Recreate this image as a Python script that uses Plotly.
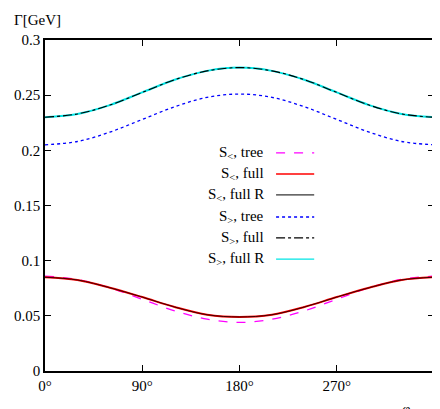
import plotly.graph_objects as go

phi = [0, 30, 60, 90, 120, 150, 180, 210, 240, 270, 300, 330, 360]

s_lt_tree = [0.086, 0.083, 0.0755, 0.065, 0.0545, 0.047, 0.044, 0.047, 0.0545, 0.065, 0.0755, 0.083, 0.086]
s_lt_full = [0.085, 0.0825, 0.0755, 0.067, 0.058, 0.051, 0.049, 0.051, 0.058, 0.067, 0.0755, 0.0825, 0.085]
s_lt_fullR = [0.085, 0.0825, 0.0755, 0.067, 0.058, 0.051, 0.049, 0.051, 0.058, 0.067, 0.0755, 0.0825, 0.085]
s_gt_tree = [0.205, 0.208, 0.2165, 0.228, 0.2395, 0.248, 0.251, 0.248, 0.2395, 0.228, 0.2165, 0.208, 0.205]
s_gt_full = [0.230, 0.233, 0.241, 0.2525, 0.264, 0.272, 0.275, 0.272, 0.264, 0.2525, 0.241, 0.233, 0.230]
s_gt_fullR = [0.230, 0.233, 0.241, 0.2525, 0.264, 0.272, 0.275, 0.272, 0.264, 0.2525, 0.241, 0.233, 0.230]

xticks = [0, 90, 180, 270, 360]
xlabels = ["0°", "90°", "180°", "270°", "360°"]

# draw order: cyan under black dash-dot, red under dark line
series = [
    ("S<sub><</sub>, tree", s_lt_tree, "#ff00ff", "dash", 1.3),
    ("S<sub><</sub>, full", s_lt_full, "#ff0000", "solid", 2),
    ("S<sub><</sub>, full R", s_lt_fullR, "#3a0000", "solid", 1),
    ("S<sub>></sub>, tree", s_gt_tree, "#0000ff", "dot", 1.3),
    ("S<sub>></sub>, full R", s_gt_fullR, "#00e5e5", "solid", 2),
    ("S<sub>></sub>, full", s_gt_full, "#000000", "dashdot", 1.1),
]

fig = go.Figure()
for name, vals, col, dash, w in series:
    fig.add_trace(go.Scatter(x=phi, y=vals, mode="lines", name=name,
                             line=dict(color=col, dash=dash, width=w, shape="spline"),
                             showlegend=False))

# hand-made key, text left and sample line right (gnuplot style)
key = [
    ("S<sub><</sub>, tree", "#ff00ff", "dash", 1.3),
    ("S<sub><</sub>, full", "#ff0000", "solid", 1.5),
    ("S<sub><</sub>, full R", "#000000", "solid", 1),
    ("S<sub>></sub>, tree", "#0000ff", "dot", 1.5),
    ("S<sub>></sub>, full", "#000000", "dashdot", 1.3),
    ("S<sub>></sub>, full R", "#00e5e5", "solid", 1.3),
]
rows = [0.659, 0.595, 0.532, 0.465, 0.402, 0.338]
for (name, col, dash, w), yy in zip(key, rows):
    fig.add_annotation(x=0.568, y=yy, xref="paper", yref="paper", text=name,
                       showarrow=False, xanchor="right", yanchor="middle",
                       font=dict(size=15, color="black"))
    fig.add_shape(type="line", xref="paper", yref="paper", x0=0.594, x1=0.692,
                  y0=yy, y1=yy, line=dict(color=col, dash=dash, width=w))

fig.add_annotation(x=-0.085, y=1.03, xref="paper", yref="paper", text="Γ[GeV]",
                   showarrow=False, xanchor="left", yanchor="bottom",
                   font=dict(size=15, color="black"))
fig.add_annotation(x=0.945, y=-0.085, xref="paper", yref="paper", text="<i>φ</i><sub><i>M</i>1</sub>",
                   showarrow=False, xanchor="center", yanchor="top",
                   font=dict(size=15, color="black"))

axis_common = dict(showgrid=False, zeroline=False, showline=True, linecolor="black",
                   linewidth=1.5, mirror="ticks", ticks="inside", ticklen=6,
                   tickcolor="black", tickfont=dict(size=15, color="black"),
                   automargin=False)

fig.update_layout(
    width=440, height=409,
    margin=dict(l=37, r=14, t=32, b=46),
    paper_bgcolor="white", plot_bgcolor="white",
    font=dict(family="Liberation Serif, DejaVu Serif, serif", color="black"),
    xaxis=dict(range=[0, 360], tickmode="array", tickvals=xticks, ticktext=xlabels, **axis_common),
    yaxis=dict(range=[0, 0.3], tickmode="array",
               tickvals=[0, 0.05, 0.1, 0.15, 0.2, 0.25, 0.3],
               ticktext=["0", "0.05", "0.1", "0.15", "0.2", "0.25", "0.3"], **axis_common),
)

fig.write_html("out.html")
